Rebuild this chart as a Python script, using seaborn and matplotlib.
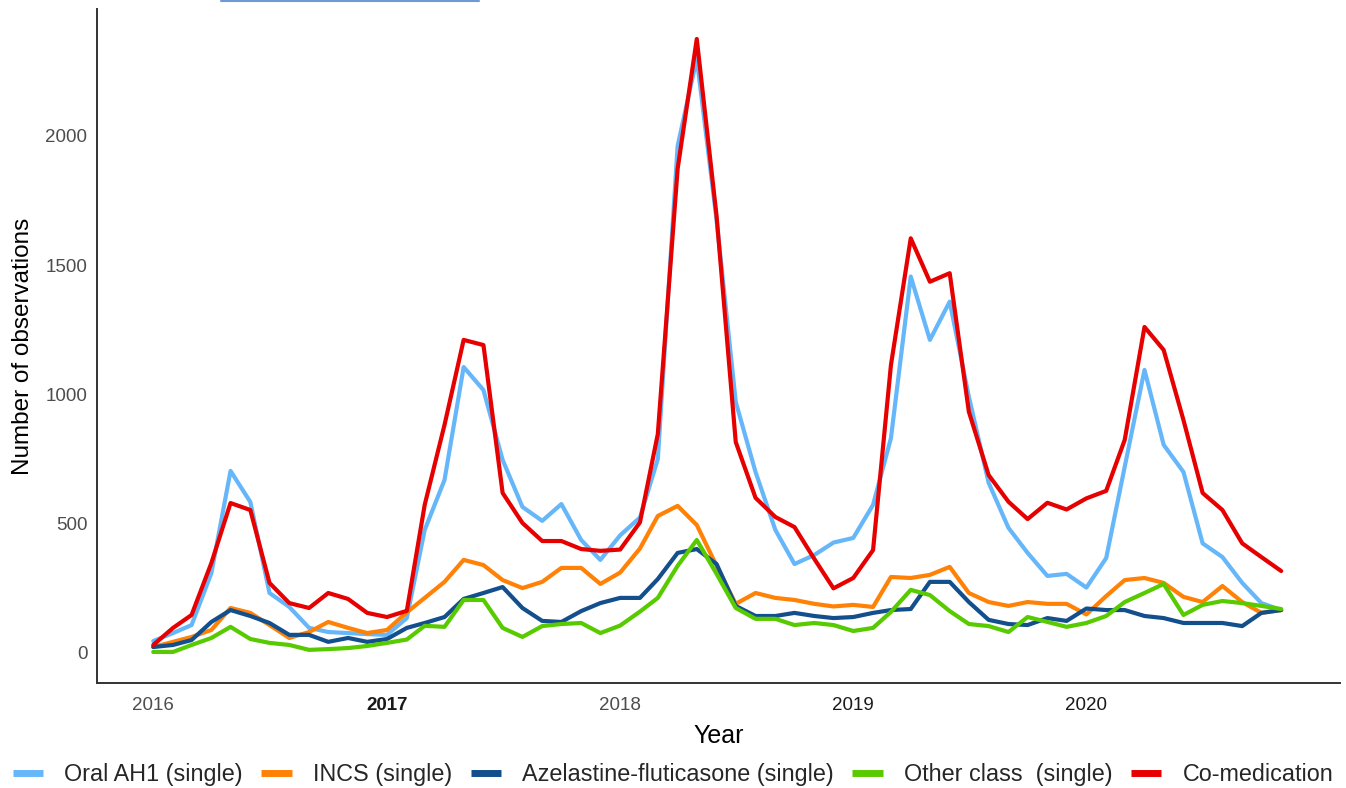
import numpy as np
import pandas as pd
import matplotlib.pyplot as plt
import matplotlib.dates as mdates
import matplotlib.ticker as mticker
from matplotlib.lines import Line2D
import seaborn as sns

# -----------------------------------
# Data (monthly counts, Jan 2016 - Nov 2020)
# -----------------------------------
months = pd.date_range("2016-01-01", periods=59, freq="MS")

oral_ah1 = [46, 77, 108, 309, 704, 584, 232, 178, 97, 81, 77, 73, 70, 135,
            476, 669, 1106, 1017, 747, 565, 511, 576, 437, 360, 455, 524,
            750, 1961, 2300, 1675, 971, 700, 476, 344, 379, 427, 445,
            573, 831, 1456, 1211, 1359, 991, 658, 484, 387, 298, 306, 253,
            367, 720, 1095, 805, 700, 424, 371, 271, 193, 166]

incs = [23, 43, 62, 89, 174, 155, 108, 58, 81, 120, 97, 77, 89, 157,
        213, 275, 360, 340, 282, 251, 275, 329, 329, 267, 311, 404,
        530, 569, 495, 337, 190, 232, 213, 205, 190, 180, 186,
        178, 294, 290, 302, 333, 232, 197, 182, 197, 190, 190, 149,
        220, 282, 290, 271, 217, 197, 259, 197, 155, 166]

aze_flu = [23, 31, 50, 120, 166, 143, 116, 70, 70, 43, 58, 43, 54, 97,
           116, 139, 209, 232, 255, 174, 124, 120, 162, 193, 213, 213,
           286, 387, 402, 344, 182, 143, 143, 155, 143, 135, 139,
           155, 166, 170, 275, 275, 197, 128, 112, 108, 135, 124, 172,
           166, 166, 143, 135, 116, 116, 116, 104, 155, 166]

other_class = [4, 4, 31, 58, 101, 54, 39, 31, 12, 15, 19, 27, 39, 52,
               105, 101, 205, 205, 97, 62, 104, 112, 116, 77, 106, 160,
               213, 337, 437, 306, 174, 132, 132, 108, 116, 108, 85,
               97, 159, 244, 224, 162, 112, 104, 81, 139, 120, 101, 116,
               143, 197, 232, 267, 147, 186, 201, 193, 182, 170]

co_med = [31, 97, 147, 348, 580, 553, 271, 193, 174, 232, 209, 155, 139, 163,
          573, 882, 1211, 1191, 619, 503, 433, 433, 402, 395, 400, 505,
          847, 1872, 2375, 1690, 816, 600, 526, 487, 364, 250, 290,
          398, 1114, 1604, 1436, 1469, 933, 688, 585, 518, 581, 555, 598,
          627, 824, 1261, 1172, 901, 619, 553, 424, 371, 317]

series_names = ["Oral AH1 (single)", "INCS (single)",
                "Azelastine-fluticasone (single)", "Other class  (single)",
                "Co-medication"]
series_colors = ["#66B6FA", "#FF8206", "#134F8C", "#58CA00", "#E60000"]

df = pd.DataFrame({
    "month": np.tile(months, 5),
    "count": oral_ah1 + incs + aze_flu + other_class + co_med,
    "group": np.repeat(series_names, len(months)),
})

# -----------------------------------
# Plot
# -----------------------------------
sns.set_style("white")
plt.rcParams["font.family"] = ["Liberation Sans", "DejaVu Sans"]

fig = plt.figure(figsize=(13.46, 7.88), dpi=100)
ax = fig.add_axes([0.0721, 0.1333, 0.9234, 0.8553])

sns.lineplot(
    data=df, x="month", y="count", hue="group",
    hue_order=series_names, palette=dict(zip(series_names, series_colors)),
    linewidth=3.0, ax=ax
)

ax.set_xlim(pd.Timestamp("2015-10-05"), pd.Timestamp("2021-02-01"))
ax.set_ylim(-116, 2491)

quarter_ticks = months[months.month.isin([1, 4, 7, 10])]
ax.xaxis.set_major_locator(mticker.FixedLocator(mdates.date2num(quarter_ticks)))
ax.set_xticklabels([str(d.year) if d.month == 1 else "" for d in quarter_ticks])
ax.set_yticks([0, 500, 1000, 1500, 2000])

ax.tick_params(axis="both", length=4, width=1, color="#333333",
               labelsize=13.5, labelcolor="#4D4D4D", direction="out")
ax.tick_params(axis="x", pad=6)
ax.tick_params(axis="y", pad=3)

# year labels in the reference differ a bit in weight
for lab in ax.get_xticklabels():
    if lab.get_text() in ("2017", "2019", "2020"):
        lab.set_color("#1A1A1A")
    if lab.get_text() == "2017":
        lab.set_fontweight("bold")

sns.despine(ax=ax)
for side in ["left", "bottom"]:
    ax.spines[side].set_linewidth(1.4)
    ax.spines[side].set_color("#333333")

ax.set_xlabel("Year", fontsize=18, color="black", labelpad=7)
ax.set_ylabel("Number of observations", fontsize=17.5, color="black", labelpad=8)

sns.move_legend(
    ax, "center", bbox_to_anchor=(0.5, 0.0165), bbox_transform=fig.transFigure,
    ncol=5, frameon=False, title=None, fontsize=16.8,
    handlelength=1.3, handletextpad=0.9, columnspacing=0.8,
    borderpad=0.2, borderaxespad=0.0
)
for line in ax.get_legend().get_lines():
    line.set_linewidth(5)
    line.set_solid_capstyle("butt")

# stray underline at the top of the source image
fig.add_artist(Line2D([221 / 1346, 479 / 1346], [0.999, 0.999],
                      transform=fig.transFigure, color="#6A9BD8", linewidth=1.5))

plt.savefig("out.png", dpi=100)
plt.close()
